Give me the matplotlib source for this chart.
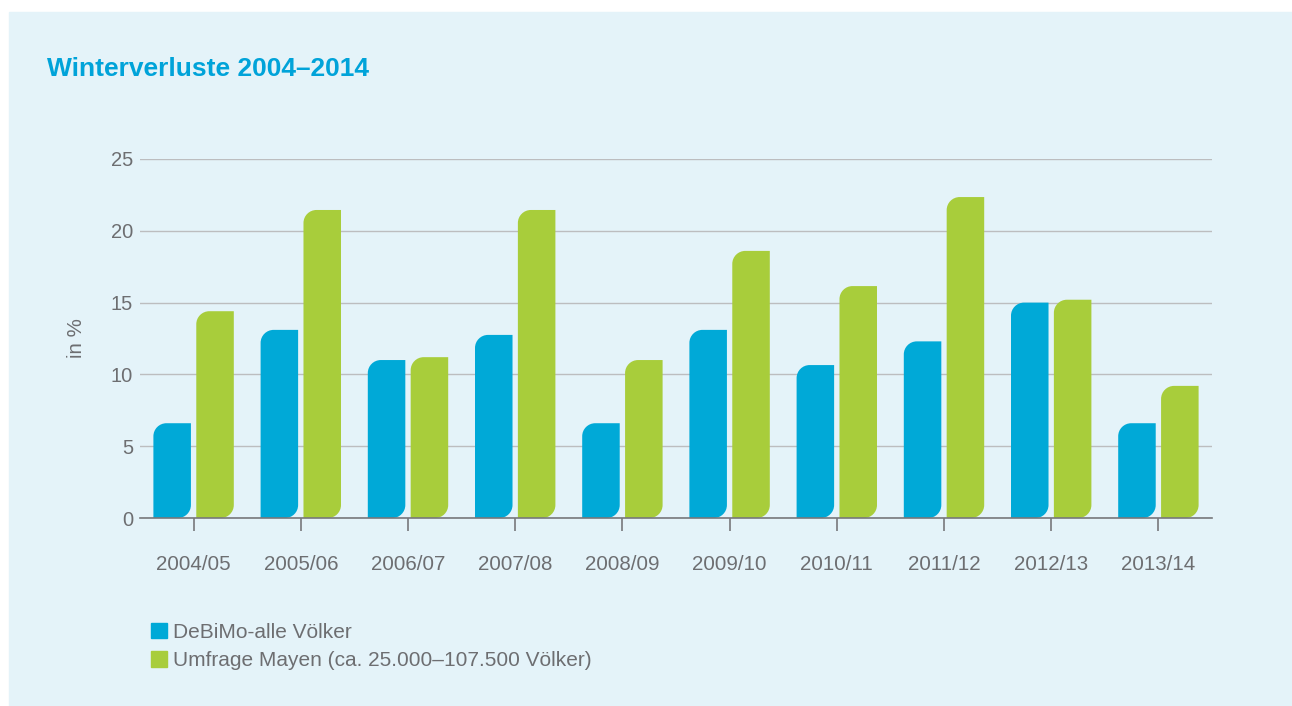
import numpy as np
import matplotlib.pyplot as plt
from matplotlib.patches import Rectangle, PathPatch
from matplotlib.path import Path

# Data
seasons = ['2004/05', '2005/06', '2006/07', '2007/08', '2008/09',
           '2009/10', '2010/11', '2011/12', '2012/13', '2013/14']
debimo = [6.6, 13.1, 11.0, 12.75, 6.6, 13.1, 10.65, 12.3, 15.0, 6.6]
mayen = [14.4, 21.45, 11.2, 21.45, 11.0, 18.6, 16.15, 22.35, 15.2, 9.2]

BLUE = '#00a9d7'
GREEN = '#a8cd3b'
BG = '#e4f3f9'
TEXT = '#6d6e71'

plt.rcParams['font.family'] = ['Liberation Sans', 'DejaVu Sans']

fig = plt.figure(figsize=(12.92, 7.06), dpi=100)
fig.patch.set_facecolor('white')
# light blue panel
fig.patches.append(Rectangle((9 / 1292, 0), 1 - 9 / 1292, 1 - 12 / 706,
                             transform=fig.transFigure, color=BG, zorder=-10))

ax = fig.add_axes([140 / 1292, 188 / 706, 1072 / 1292, 359 / 706])
ax.set_facecolor('none')
ax.set_xlim(-0.5, 9.5)
ax.set_ylim(0, 25)

x = np.arange(len(seasons))
w = 0.35
bars1 = ax.bar(x - 0.2, debimo, w, color=BLUE)
bars2 = ax.bar(x + 0.2, mayen, w, color=GREEN)

# rounded corners (top-left and bottom-right), radius given in pixels
r_px = 13
bbox = ax.get_position()
px_x = bbox.width * 1292 / 10.0
px_y = bbox.height * 706 / 25.0
rx, ry = r_px / px_x, r_px / px_y
k = 0.5523


def leaf_path(x0, y0, bw, bh):
    x1, y1 = x0 + bw, y0 + bh
    verts = [(x0, y0), (x1 - rx, y0),
             (x1 - rx + k * rx, y0), (x1, y0 + ry - k * ry), (x1, y0 + ry),
             (x1, y1), (x0 + rx, y1),
             (x0 + rx - k * rx, y1), (x0, y1 - ry + k * ry), (x0, y1 - ry),
             (x0, y0), (x0, y0)]
    codes = [Path.MOVETO, Path.LINETO,
             Path.CURVE4, Path.CURVE4, Path.CURVE4,
             Path.LINETO, Path.LINETO,
             Path.CURVE4, Path.CURVE4, Path.CURVE4,
             Path.LINETO, Path.CLOSEPOLY]
    return Path(verts, codes)


for bars in (bars1, bars2):
    for b in bars:
        b.set_visible(False)
        p = PathPatch(leaf_path(b.get_x(), b.get_y(), b.get_width(), b.get_height()),
                      facecolor=b.get_facecolor(), edgecolor='none', zorder=3)
        ax.add_patch(p)

# axes styling
for s in ['top', 'right', 'left']:
    ax.spines[s].set_visible(False)
ax.spines['bottom'].set_color('#77787b')
ax.spines['bottom'].set_linewidth(1.2)
ax.spines['bottom'].set_zorder(4)

ax.set_yticks([0, 5, 10, 15, 20, 25])
ax.yaxis.grid(True, color='#bcbdbf', linewidth=1.0)
ax.set_axisbelow(True)
ax.tick_params(axis='y', length=0, pad=5, labelsize=14.5, labelcolor=TEXT)
ax.set_xticks(x)
ax.set_xticklabels(seasons)
ax.tick_params(axis='x', length=9, width=1.2, color='#77787b', pad=18,
               labelsize=14.8, labelcolor=TEXT)

ax.set_ylabel('in %', fontsize=14.8, color=TEXT, labelpad=18)

fig.text(47 / 1292, 1 - 69 / 706, 'Winterverluste 2004–2014', fontsize=19,
         fontweight='bold', color='#00a3d9', va='center', ha='left')

# legend
handles = [Rectangle((0, 0), 1, 1, color=BLUE), Rectangle((0, 0), 1, 1, color=GREEN)]
fig.legend(handles, ['DeBiMo-alle Völker', 'Umfrage Mayen (ca. 25.000–107.500 Völker)'],
           loc='upper left', bbox_to_anchor=(151 / 1292, 1 - 623 / 706),
           frameon=False, fontsize=15, handlelength=0.75, handleheight=0.75,
           handletextpad=0.3, labelspacing=0.45, borderpad=0, borderaxespad=0,
           labelcolor=TEXT)

fig.savefig('out.png', dpi=100, facecolor=fig.get_facecolor())
